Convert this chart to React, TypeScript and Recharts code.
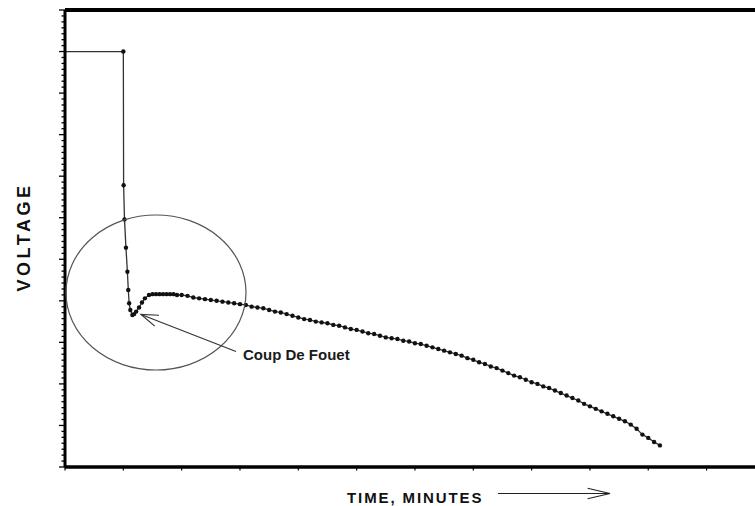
import React from 'react';
import { ComposedChart, Line, XAxis, YAxis, ReferenceLine } from 'recharts';

// Float (charged) period
const floatTime = [0, 10];
const floatVoltage = [2.25, 2.25];

// Initial drop and "coup de fouet" dip / recovery
const dipTime = [10.05, 10.2, 10.45, 10.7, 10.85, 11.0, 11.2, 11.55, 11.85, 12.2, 12.7, 13.2, 13.7, 14.4, 15.0, 15.6, 16.2, 16.8, 17.4, 18.0, 18.6, 19.2];
const dipVoltage = [2.089, 2.048, 2.014, 1.985, 1.963, 1.947, 1.939, 1.933, 1.934, 1.937, 1.942, 1.948, 1.953, 1.957, 1.958, 1.958, 1.958, 1.958, 1.958, 1.958, 1.958, 1.957];

// Discharge plateau and end
const dischargeTime = [20, 21, 22, 23, 24, 25, 26, 27, 28, 29, 30, 31, 32, 33, 34, 35, 36, 37, 38, 39, 40, 41, 42, 43, 44, 45, 46, 47, 48, 49, 50, 51, 52, 53, 54, 55, 56, 57, 58, 59, 60, 61, 62, 63, 64, 65, 66, 67, 68, 69, 70, 71, 72, 73, 74, 75, 76, 77, 78, 79, 80, 81, 82, 83, 84, 85, 86, 87, 88, 89, 90, 91, 92, 93, 94, 95, 96, 97, 98, 99, 100, 101, 102];
const dischargeVoltage = [1.957, 1.956, 1.954, 1.953, 1.952, 1.951, 1.950, 1.949, 1.948, 1.947, 1.946, 1.945, 1.943, 1.942, 1.941, 1.939, 1.937, 1.936, 1.934, 1.932, 1.930, 1.928, 1.927, 1.925, 1.924, 1.923, 1.921, 1.920, 1.918, 1.916, 1.915, 1.913, 1.911, 1.910, 1.908, 1.906, 1.905, 1.904, 1.902, 1.901, 1.899, 1.898, 1.896, 1.894, 1.892, 1.890, 1.888, 1.886, 1.884, 1.881, 1.879, 1.876, 1.874, 1.871, 1.869, 1.866, 1.863, 1.860, 1.858, 1.855, 1.852, 1.850, 1.847, 1.845, 1.842, 1.839, 1.836, 1.833, 1.830, 1.826, 1.823, 1.820, 1.817, 1.814, 1.811, 1.808, 1.805, 1.801, 1.796, 1.789, 1.785, 1.780, 1.776];

const xTicks = [0, 10, 20, 30, 40, 50, 60, 70, 80, 90, 100, 110];
const yMin = 1.75;
const yMax = 2.3;
const yMajorStep = 0.05;
const yMinorPerMajor = 7;
const yTicks = Array.from({ length: 11 * yMinorPerMajor + 1 }, (_, i) => yMin + (i * yMajorStep) / yMinorPerMajor);

const data = [
  ...floatTime.map((t, i) => ({ t, v: floatVoltage[i] })),
  ...dipTime.map((t, i) => ({ t, v: dipVoltage[i] })),
  ...dischargeTime.map((t, i) => ({ t, v: dischargeVoltage[i] })),
];

const FONT = '"Liberation Sans", Arial, Helvetica, sans-serif';

const YTick = (props: any) => {
  const { x, y, payload } = props;
  const k = (payload.value - yMin) / yMajorStep;
  const major = Math.abs(k - Math.round(k)) < 1e-6;
  const len = major ? 6 : 3.5;
  return <line x1={x - len} x2={x} y1={y} y2={y} stroke="#000" strokeWidth={1.3} />;
};

const XTick = (props: any) => {
  const { x, y } = props;
  return <line x1={x} x2={x} y1={y} y2={y + 3.5} stroke="#000" strokeWidth={1.2} />;
};

const Dot = (props: any) => {
  const { cx, cy, index } = props;
  if (index === 0 || cx == null || cy == null) return <g key={`d${index}`} />;
  return <circle key={`d${index}`} cx={cx} cy={cy} r={2.2} fill="#111" />;
};

function arrowHead(tipX: number, tipY: number, fromX: number, fromY: number, len: number, spread: number) {
  const a = Math.atan2(fromY - tipY, fromX - tipX);
  const a1 = a + spread;
  const a2 = a - spread;
  return `M${tipX + len * Math.cos(a1)},${tipY + len * Math.sin(a1)} L${tipX},${tipY} L${tipX + len * Math.cos(a2)},${tipY + len * Math.sin(a2)}`;
}

export default function App() {
  return (
    <div style={{ position: 'absolute', left: 0, top: 0, width: 755, height: 506, background: '#fff' }}>
      <ComposedChart
        width={755}
        height={506}
        data={data}
        margin={{ top: 10, right: 0, bottom: 0, left: 0 }}
      >
        <XAxis
          dataKey="t"
          type="number"
          domain={[0, 118.3]}
          ticks={xTicks}
          interval={0}
          allowDataOverflow
          height={39}
          tickSize={0}
          tickMargin={0}
          tickLine={false}
          tick={<XTick />}
          axisLine={{ stroke: '#000', strokeWidth: 3.5 }}
        />
        <YAxis
          type="number"
          domain={[yMin, yMax]}
          ticks={yTicks}
          interval={0}
          allowDataOverflow
          width={65}
          tickSize={0}
          tickMargin={0}
          tickLine={false}
          tick={<YTick />}
          axisLine={{ stroke: '#000', strokeWidth: 3 }}
        />
        <ReferenceLine y={yMax} stroke="#000" strokeWidth={4} />
        <Line
          type="linear"
          dataKey="v"
          stroke="#333"
          strokeWidth={1.3}
          dot={<Dot />}
          activeDot={false}
          isAnimationActive={false}
        />
      </ComposedChart>
      <svg
        width={755}
        height={506}
        style={{ position: 'absolute', left: 0, top: 0, pointerEvents: 'none' }}
      >
        <ellipse cx={156} cy={292.5} rx={90} ry={77.5} fill="none" stroke="#555" strokeWidth={1.2} />
        <line x1={236} y1={351.5} x2={141} y2={314.5} stroke="#333" strokeWidth={1.2} />
        <path d={arrowHead(141, 314.5, 236, 351.5, 18, 0.33)} fill="none" stroke="#333" strokeWidth={1.2} />
        <text x={243} y={360} fontFamily={FONT} fontWeight="bold" fontSize={15} fill="#1a1a1a">
          Coup De Fouet
        </text>
        <text
          transform="translate(30,237) rotate(-90)"
          textAnchor="middle"
          fontFamily={FONT}
          fontWeight="bold"
          fontSize={18}
          letterSpacing={3.5}
          fill="#111"
        >
          VOLTAGE
        </text>
        <text x={347} y={503} fontFamily={FONT} fontWeight="bold" fontSize={15} letterSpacing={1.9} fill="#111">
          TIME, MINUTES
        </text>
        <line x1={498} y1={493.5} x2={610} y2={493.5} stroke="#222" strokeWidth={1.2} />
        <path d={arrowHead(610, 493.5, 498, 493.5, 23, 0.23)} fill="none" stroke="#222" strokeWidth={1.2} />
      </svg>
    </div>
  );
}
